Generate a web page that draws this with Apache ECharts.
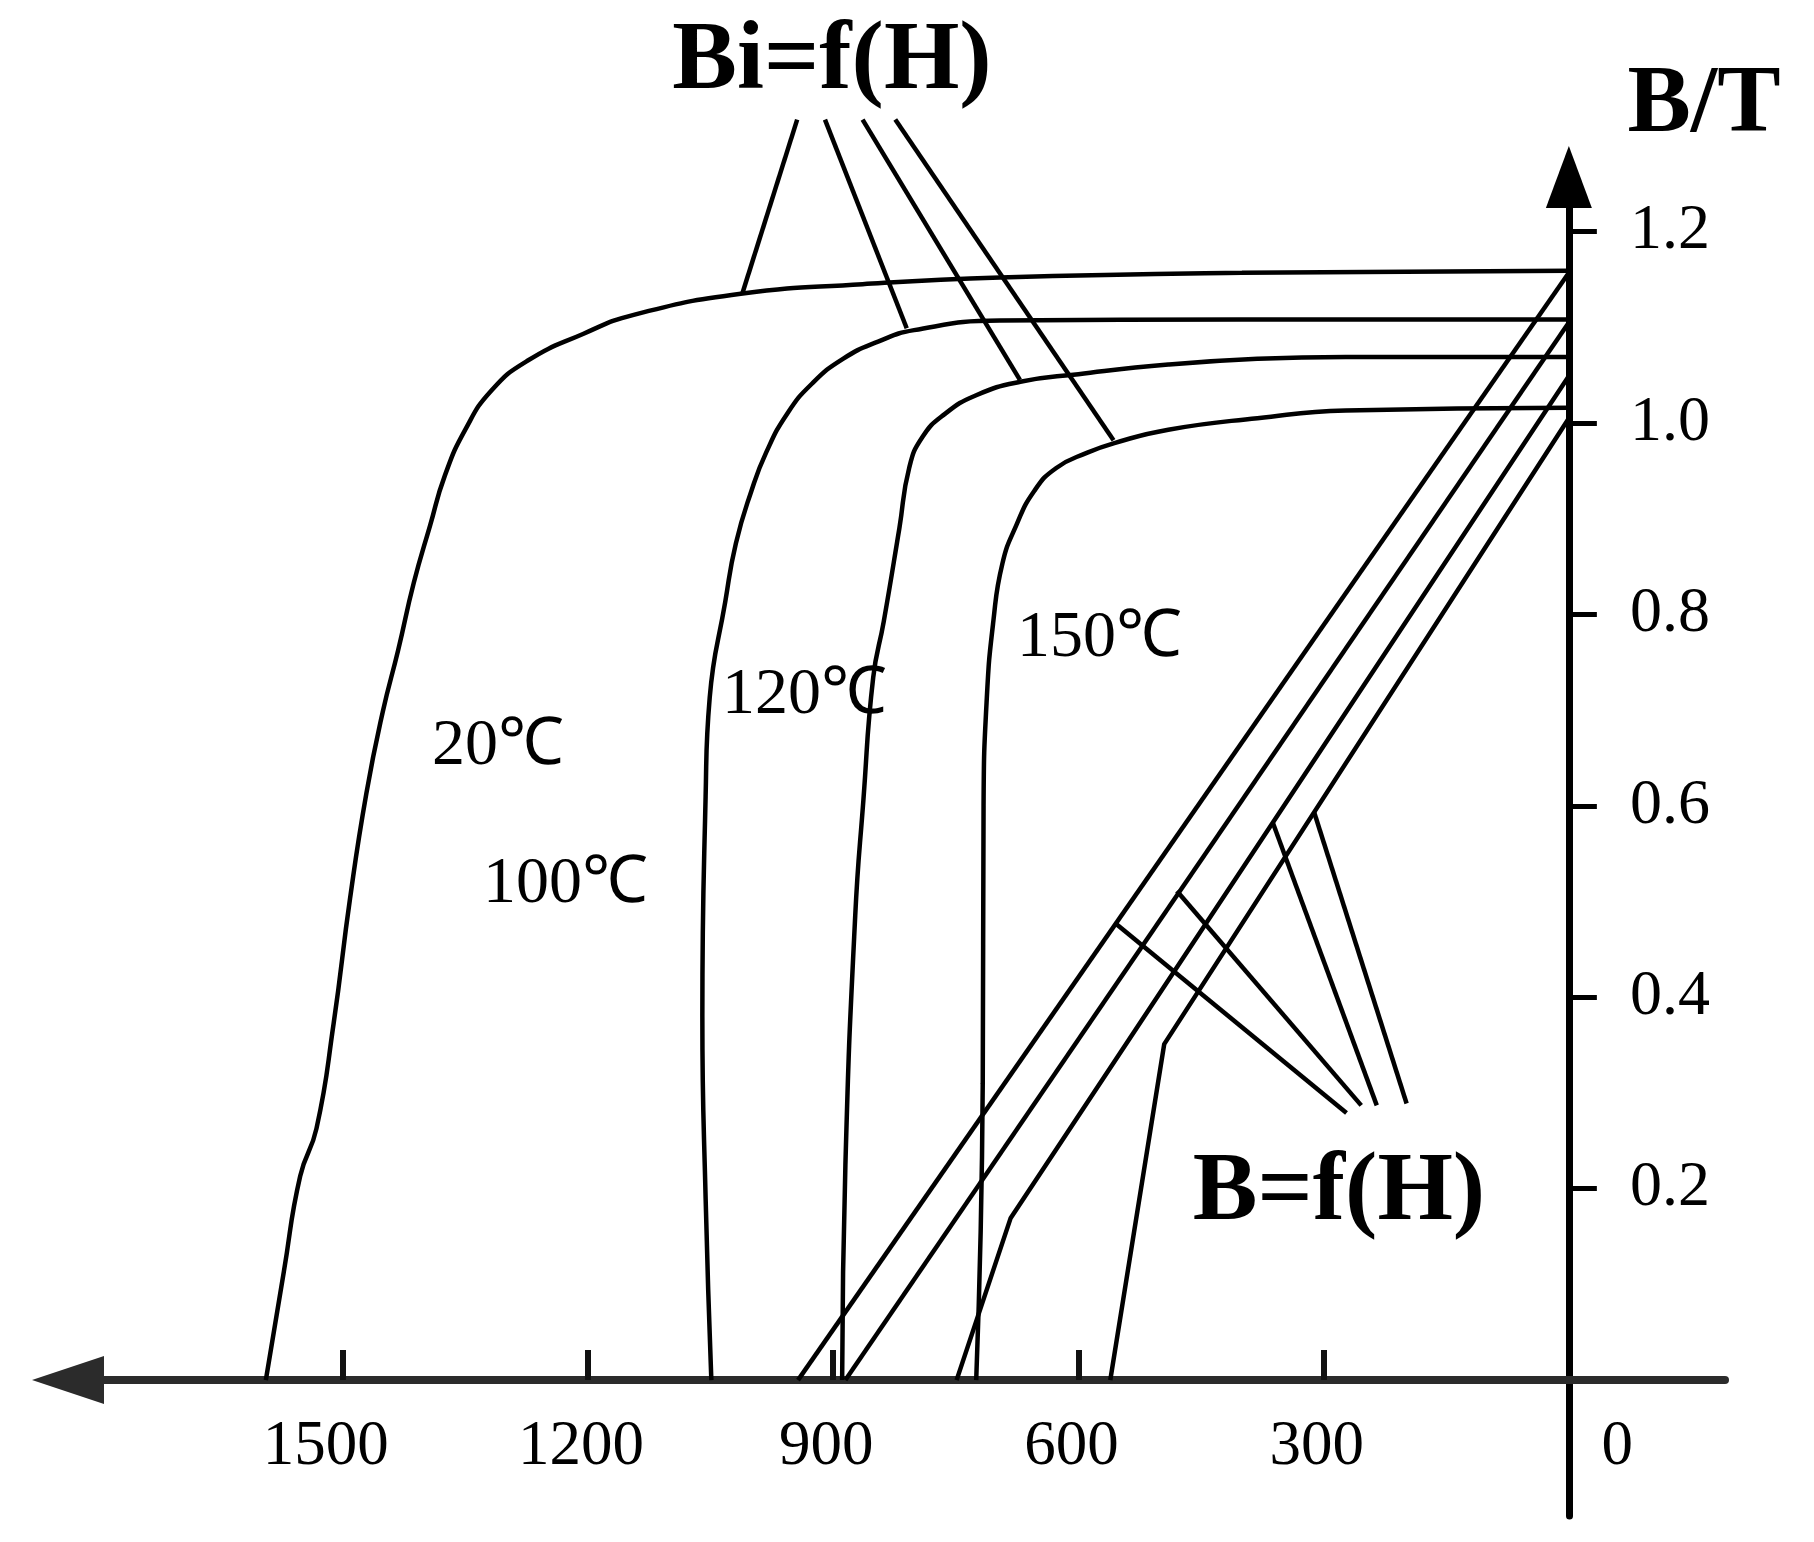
<!DOCTYPE html>
<html><head><meta charset="utf-8">
<script src="https://cdn.jsdelivr.net/npm/echarts@6/dist/echarts.min.js"></script>
<style>html,body{margin:0;padding:0;background:#fff}#c{width:1814px;height:1542px}</style>
</head><body><div id="c"></div>
<script>
// ---- data (H in kA/m, reversed axis; B in T) ----
const hTickValues = [300, 600, 900, 1200, 1500];
const hLabelValues = [0, 300, 600, 900, 1200, 1500];
const bTickValues = [0.2, 0.4, 0.6, 0.8, 1.0, 1.2];
const temperatures = ['20℃', '100℃', '120℃', '150℃'];

// intrinsic curves Bi = f(H)
const bi20 = [[1594,0],[1572,0.113],[1552,0.213],[1532,0.263],[1511,0.373],[1491,0.503],[1471,0.613],[1451,0.698],[1432,0.763],[1413,0.833],[1393,0.893],[1375,0.945],[1350,0.993],[1318,1.034],[1274,1.065],[1206,1.093],[1144,1.113],[1013,1.135],[864,1.145],[696,1.152],[400,1.157],[0,1.159]];
const bi100 = [[1049,0],[1056,0.19],[1060,0.38],[1056,0.61],[1051,0.713],[1032,0.813],[1019,0.874],[1000,0.929],[982,0.969],[956,1.010],[926,1.041],[888,1.067],[845,1.085],[801,1.097],[696,1.107],[400,1.108],[0,1.108]];
const bi120 = [[889,0],[885,0.225],[873,0.485],[863,0.606],[851,0.734],[838,0.793],[819,0.89],[807,0.953],[791,0.985],[764,1.009],[725,1.029],[671,1.043],[600,1.051],[490,1.061],[381,1.067],[273,1.069],[0,1.069]];
const bi150 = [[725,0],[717,0.31],[716,0.6],[712,0.713],[704,0.793],[693,0.853],[676,0.893],[654,0.929],[627,0.953],[589,0.969],[556,0.979],[490,0.993],[381,1.005],[273,1.013],[0,1.016]];

// normal curves B = f(H)
const b20 = [[0,1.157],[943,0]];
const b100 = [[0,1.105],[885,0]];
const b120 = [[0,1.049],[683,0.169],[749,0]];
const b150 = [[0,1.005],[495,0.351],[561,0]];

// leader lines (data units)
const biLeaders = [[[944,1.317],[1011,1.1355]],[[910,1.317],[810,1.099]],[[864,1.317],[671.5,1.045]],[[824,1.317],[557,0.982]]];
const bLeaders = [[[553,0.476],[272,0.279]],[[479.5,0.511],[254,0.287]],[[362,0.582],[235,0.287]],[[311.5,0.593],[198.5,0.289]]];

// ---- chart ----
const FONT = "'Liberation Serif','Times New Roman',serif";
const chart = echarts.init(document.getElementById('c'), null, {renderer: 'canvas'});

function ser(data, smooth) {
  return {type: 'line', data: data, smooth: smooth, symbol: 'none', clip: false, silent: true,
    lineStyle: {color: '#000', width: 4.5}, z: 3};
}
const series = [];
[bi20, bi100, bi120, bi150].forEach(d => series.push(ser(d, 0.5)));
[b20, b100, b120, b150].forEach(d => series.push(ser(d, false)));
biLeaders.forEach(d => series.push(ser(d, false)));
bLeaders.forEach(d => series.push(ser(d, false)));

function txt(text, x, y, size, bold, align) {
  return {type: 'text', x: x, y: y, z: 10,
    style: {text: text, fontFamily: FONT, fontSize: size, fontWeight: bold ? 'bold' : 'normal',
      fill: '#000', align: align || 'center', verticalAlign: 'middle'}};
}

const option = {
  animation: false,
  backgroundColor: '#fff',
  grid: {left: 68, top: 177, width: 1657, height: 1339, containLabel: false, outerBoundsMode: 'none'},
  xAxis: {
    type: 'value', inverse: true, min: -191, max: 1836,
    splitLine: {show: false},
    axisLine: {onZero: true, lineStyle: {color: '#2b2b2b', width: 8},
      symbol: ['triangle', 'none'], symbolSize: [48, 72]},
    axisTick: {inside: true, length: 30, customValues: hTickValues, lineStyle: {color: '#111', width: 6}},
    axisLabel: {
      customValues: hLabelValues, margin: -100,
      formatter: v => v === 0 ? '{z|0}' : (v === 1500 ? '{w|' + v + '}' : '{n|' + v + '}'),
      rich: {
        n: {fontFamily: FONT, fontSize: 63, color: '#000', padding: [0, 14, 0, 0]},
        w: {fontFamily: FONT, fontSize: 63, color: '#000', padding: [0, 34, 0, 0]},
        z: {fontFamily: FONT, fontSize: 63, color: '#000', padding: [0, 0, 0, 97]}
      }
    }
  },
  yAxis: {
    type: 'value', position: 'right', min: -0.142, max: 1.257,
    splitLine: {show: false},
    axisLine: {onZero: true, lineStyle: {color: '#000', width: 7},
      symbol: ['none', 'triangle'], symbolSize: [46, 62]},
    axisTick: {length: 28, customValues: bTickValues, lineStyle: {color: '#000', width: 5}},
    axisLabel: {customValues: bTickValues, margin: -95, fontFamily: FONT, fontSize: 64, color: '#000',
      formatter: v => v.toFixed(1)}
  },
  series: series,
  graphic: [
    txt('Bi=f(H)', 832, 63, 97, true),
    txt('B/T', 1704, 106, 95, true),
    txt('B=f(H)', 1339, 1194, 97, true),
    txt(temperatures[0], 432, 747, 66, false, 'left'),
    txt(temperatures[1], 483, 885, 66, false, 'left'),
    txt(temperatures[2], 722, 696, 66, false, 'left'),
    txt(temperatures[3], 1017, 639, 66, false, 'left')
  ]
};
chart.setOption(option);
</script>
</body></html>
